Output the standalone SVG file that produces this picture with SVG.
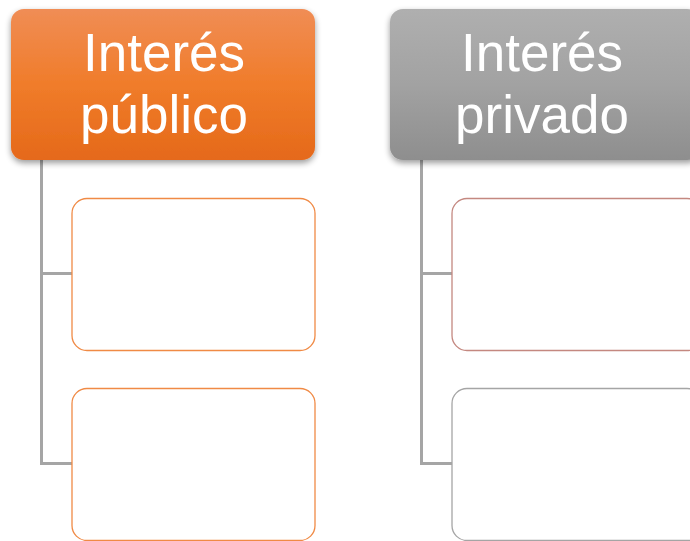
<svg xmlns="http://www.w3.org/2000/svg" width="690" height="541" viewBox="0 0 690 541">
<style>
.hdr{font-family:"Liberation Sans",Arial,sans-serif;font-size:53px;fill:#ffffff;text-anchor:middle}
.conn{fill:none;stroke:#A5A5A5;stroke-width:3}
.child{fill:#ffffff;stroke-width:1.3}
</style>
<defs>
<linearGradient id="gO" x1="0" y1="0" x2="0" y2="1">
<stop offset="0" stop-color="#F08D55"/>
<stop offset="0.5" stop-color="#F07C2A"/>
<stop offset="1" stop-color="#E5691A"/>
</linearGradient>
<linearGradient id="gG" x1="0" y1="0" x2="0" y2="1">
<stop offset="0" stop-color="#AFAFAF"/>
<stop offset="0.5" stop-color="#A2A2A2"/>
<stop offset="1" stop-color="#8E8E8E"/>
</linearGradient>
<filter id="sh" x="-10%" y="-10%" width="120%" height="130%">
<feGaussianBlur in="SourceAlpha" stdDeviation="3"/>
<feOffset dx="0" dy="3" result="b"/>
<feComponentTransfer><feFuncA type="linear" slope="0.4"/></feComponentTransfer>
<feMerge><feMergeNode/><feMergeNode in="SourceGraphic"/></feMerge>
</filter>
</defs>
<g id="connectors">
<path class="conn" d="M41.5 160 V463.5 H72 M41.5 273.5 H72"/>
<path class="conn" d="M421.5 160 V463.5 H452 M421.5 273.5 H452"/>
</g>
<g id="node-publico">
<rect x="11" y="9" width="304" height="151" rx="13" fill="url(#gO)" filter="url(#sh)"/>
<text class="hdr" x="164" y="71">Interés</text>
<text class="hdr" x="164" y="133">público</text>
</g>
<g id="node-privado">
<rect x="390" y="9" width="310" height="151" rx="13" fill="url(#gG)" filter="url(#sh)"/>
<text class="hdr" x="542" y="71">Interés</text>
<text class="hdr" x="542" y="133">privado</text>
</g>
<g id="child-publico-1"><rect class="child" x="72" y="198.5" width="243" height="152" rx="15" stroke="#F08A45"/></g>
<g id="child-publico-2"><rect class="child" x="72" y="388.5" width="243" height="152" rx="15" stroke="#F08A45"/></g>
<g id="child-privado-1"><rect class="child" x="452" y="198.5" width="250" height="152" rx="15" stroke="#C48880"/></g>
<g id="child-privado-2"><rect class="child" x="452" y="388.5" width="250" height="152" rx="15" stroke="#A5A5A5"/></g>
</svg>
